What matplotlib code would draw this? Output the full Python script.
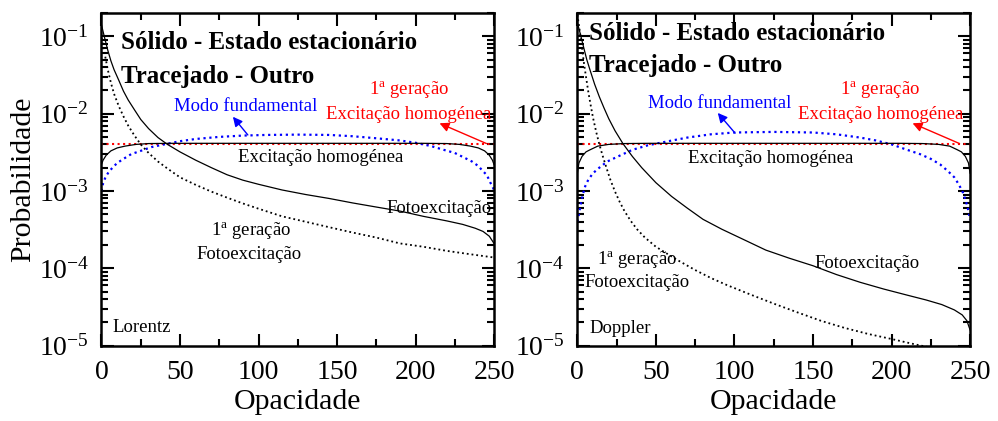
import matplotlib
matplotlib.use('Agg')
import matplotlib.pyplot as plt
from matplotlib.ticker import FixedLocator, LogLocator, NullFormatter

plt.rcParams['font.family'] = ['Liberation Serif', 'DejaVu Serif']
plt.rcParams['mathtext.fontset'] = 'custom'
plt.rcParams['mathtext.rm'] = 'Liberation Serif'
plt.rcParams['mathtext.it'] = 'Liberation Serif:italic'
plt.rcParams['mathtext.bf'] = 'Liberation Serif:bold'
plt.rcParams['axes.unicode_minus'] = False

# uniform level (first generation, homogeneous excitation)
red_x = [0, 250]
red_y = [0.004, 0.004]

# ---- Lorentz ----
lor_foto_x = [0, 2, 4, 6, 8, 11, 14, 17, 21, 25, 30, 36, 42, 50, 60, 70, 80, 90,
              100, 115, 130, 145, 160, 175, 190, 205, 220, 230, 238, 243, 247, 250]
lor_foto_y = [0.14, 0.095, 0.066, 0.048, 0.037, 0.027, 0.0195, 0.0150, 0.0112,
              0.0084, 0.0064, 0.0049, 0.0040, 0.0032, 0.0025, 0.0020, 0.00162,
              0.00138, 0.00122, 0.00103, 0.00090, 0.00080, 0.00070, 0.00062,
              0.00055, 0.00047, 0.00041, 0.00037, 0.00033, 0.00030, 0.00026, 0.00021]

lor_foto1_x = [0, 2, 4, 6, 8, 11, 14, 17, 21, 25, 30, 36, 42, 50, 60, 70, 80, 90,
               100, 115, 130, 145, 160, 175, 190, 205, 220, 235, 250]
lor_foto1_y = [0.095, 0.06, 0.037, 0.025, 0.018, 0.0125, 0.0092, 0.0070, 0.0052,
               0.0040, 0.0031, 0.0024, 0.00195, 0.00150, 0.00120, 0.00098, 0.00082,
               0.00069, 0.00059, 0.00047, 0.00040, 0.00034, 0.00029, 0.00025,
               0.00021, 0.00019, 0.000168, 0.000152, 0.000138]

lor_homog_x = [0, 1, 3, 6, 10, 15, 22, 30, 45, 125, 205, 220, 228, 235, 240, 244,
               247, 249, 250]
lor_homog_y = [0.0022, 0.0025, 0.0029, 0.0033, 0.0036, 0.0038, 0.0040, 0.0041,
               0.00413, 0.00413, 0.00413, 0.0041, 0.0040, 0.0038, 0.0036, 0.0033,
               0.0029, 0.0025, 0.0022]

lor_modo_x = [0, 1, 2.5, 4.5, 7, 10, 14, 19, 25, 32, 40, 50, 60, 75, 90, 105, 125,
              145, 160, 175, 190, 200, 210, 218, 225, 231, 236, 240, 243, 245.5,
              247.5, 249, 250]
lor_modo_y = [0.00100, 0.00125, 0.0015, 0.00175, 0.0020, 0.0023, 0.0026, 0.0030,
              0.0033, 0.0037, 0.0040, 0.0044, 0.0047, 0.0050, 0.0052, 0.0053,
              0.00535, 0.0053, 0.0051, 0.0048, 0.0045, 0.0042, 0.0038, 0.0034,
              0.0031, 0.0027, 0.0024, 0.0021, 0.0018, 0.0016, 0.0013, 0.00115, 0.00102]

# ---- Doppler ----
dop_foto_x = [0, 2, 4, 6, 8, 11, 14, 17, 20, 24, 29, 35, 41, 50, 60, 70, 80, 92,
              105, 120, 135, 150, 165, 180, 195, 210, 222, 232, 240, 245, 248, 250]
dop_foto_y = [0.15, 0.105, 0.072, 0.050, 0.037, 0.024, 0.0165, 0.0118, 0.0086,
              0.0060, 0.0041, 0.0028, 0.0020, 0.00128, 0.00085, 0.00060, 0.00043,
              0.00032, 0.00024, 0.000172, 0.000135, 0.000108, 0.000083, 0.000066,
              0.000054, 0.000045, 0.000039, 0.000034, 0.000029, 0.000025,
              0.000021, 0.000016]

dop_foto1_x = [0, 1, 2, 3, 4, 5.5, 7, 8.5, 10, 12, 14, 16, 18.5, 21, 24, 27, 30,
               34, 38, 43, 50, 57, 64, 75, 85, 95, 110, 125, 140, 155, 170, 185,
               200, 215, 230]
dop_foto1_y = [0.19, 0.14, 0.10, 0.07, 0.048, 0.030, 0.019, 0.0128, 0.0088,
               0.0058, 0.0040, 0.0029, 0.0020, 0.00140, 0.00098, 0.00072, 0.00055,
               0.00041, 0.00032, 0.00025, 0.00019, 0.000155, 0.000127, 0.000095,
               0.000075, 0.000061, 0.000046, 0.000035, 0.000027, 0.000021,
               0.000017, 0.0000142, 0.0000122, 0.0000104, 0.0000090]

dop_homog_x = [0, 1, 3, 5.5, 8, 13, 20, 30, 45, 125, 205, 220, 230, 237, 242,
               244.5, 247, 249, 250]
dop_homog_y = [0.0017, 0.0023, 0.0028, 0.0032, 0.0034, 0.0038, 0.0040, 0.0041,
               0.00413, 0.00413, 0.00413, 0.0041, 0.0040, 0.0038, 0.0034, 0.0032,
               0.0028, 0.0023, 0.0017]

dop_modo_x = [0, 1, 2, 3.5, 5, 7, 10, 14, 19, 26, 35, 45, 58, 70, 85, 100, 125,
              150, 165, 180, 190, 200, 210, 218, 225, 231, 236, 240, 243, 245.5,
              247.5, 249, 250]
dop_modo_y = [0.0004, 0.0005, 0.00065, 0.0009, 0.00115, 0.0014, 0.0017, 0.0020,
              0.0024, 0.0028, 0.0034, 0.0039, 0.0044, 0.0049, 0.0054, 0.0057,
              0.0058, 0.0057, 0.0054, 0.0049, 0.0045, 0.0040, 0.0034, 0.0030,
              0.0026, 0.0022, 0.0018, 0.0015, 0.0012, 0.00095, 0.00072, 0.00055,
              0.00042]

x_ticks = [0, 50, 100, 150, 200, 250]
x_minor = [25, 75, 125, 175, 225]

FS_TICK = 20
FS_LABEL = 21.5
FS_NOTE = 13.5
FS_TITLE = 18


def setup_axes(ax):
    ax.set_yscale('log')
    ax.set_xlim(0, 250)
    ax.set_ylim(1e-5, 0.2)
    ax.xaxis.set_major_locator(FixedLocator(x_ticks))
    ax.xaxis.set_minor_locator(FixedLocator(x_minor))
    ax.yaxis.set_major_locator(LogLocator(base=10, numticks=10))
    ax.yaxis.set_minor_locator(LogLocator(base=10, subs=range(2, 10), numticks=10))
    ax.yaxis.set_minor_formatter(NullFormatter())
    ax.tick_params(which='both', direction='in', top=True, right=True,
                   width=1.5, labelsize=FS_TICK)
    ax.tick_params(which='major', length=9)
    ax.tick_params(which='minor', length=5)
    ax.tick_params(axis='x', pad=10)
    ax.tick_params(axis='y', pad=9)
    for s in ax.spines.values():
        s.set_linewidth(1.8)
    ax.set_xlabel('Opacidade', fontsize=FS_LABEL, labelpad=3)


def draw_curves(ax, foto_x, foto_y, foto1_x, foto1_y, homog_x, homog_y, modo_x, modo_y):
    ax.plot(red_x, red_y, color='red', ls=':', lw=1.5)
    ax.plot(modo_x, modo_y, color='blue', ls=':', lw=1.6)
    ax.plot(homog_x, homog_y, color='black', lw=0.9)
    ax.plot(foto1_x, foto1_y, color='black', ls=':', lw=1.3)
    ax.plot(foto_x, foto_y, color='black', lw=0.9)


def arrow(ax, text_xy, tip_xy, color):
    ax.annotate('', xy=text_xy, xytext=tip_xy,
                arrowprops=dict(arrowstyle='-|>', color=color, lw=1.0,
                                mutation_scale=14, shrinkA=0, shrinkB=0))


def main():
    fig = plt.figure(figsize=(9.98, 4.21), dpi=100)
    ax1 = fig.add_axes([0.1017, 0.1789, 0.3933, 0.7903])
    ax2 = fig.add_axes([0.5785, 0.1789, 0.3935, 0.7903])

    # left panel: Lorentz
    draw_curves(ax1, lor_foto_x, lor_foto_y, lor_foto1_x, lor_foto1_y,
                lor_homog_x, lor_homog_y, lor_modo_x, lor_modo_y)
    setup_axes(ax1)
    ax1.set_ylabel('Probabilidade', fontsize=FS_LABEL, labelpad=1.5)

    ax1.text(12.4, 0.084, 'Sólido - Estado estacionário', fontsize=FS_TITLE,
             fontweight='bold', va='center')
    ax1.text(12.4, 0.0305, 'Tracejado - Outro', fontsize=FS_TITLE,
             fontweight='bold', va='center')
    ax1.text(92.0, 0.01225, 'Modo fundamental', color='blue', fontsize=FS_NOTE,
             ha='center', va='center')
    arrow(ax1, (83.7, 0.0091), (93.2, 0.0053), 'blue')
    ax1.text(195.7, 0.0204, '1$^\\mathrm{a}$ geração', color='red', fontsize=FS_NOTE,
             ha='center', va='center')
    ax1.text(195.6, 0.0096, 'Excitação homogénea', color='red', fontsize=FS_NOTE,
             ha='center', va='center')
    arrow(ax1, (215.3, 0.0075), (245.2, 0.0041), 'red')
    ax1.text(139.3, 0.00267, 'Excitação homogénea', fontsize=FS_NOTE,
             ha='center', va='center')
    ax1.text(214.8, 0.00060, 'Fotoexcitação', fontsize=FS_NOTE,
             ha='center', va='center')
    ax1.text(95.0, 0.000311, '1$^\\mathrm{a}$ geração', fontsize=FS_NOTE,
             ha='center', va='center')
    ax1.text(94.1, 0.000152, 'Fotoexcitação', fontsize=FS_NOTE,
             ha='center', va='center')
    ax1.text(7.1, 1.72e-5, 'Lorentz', fontsize=FS_NOTE, va='center')

    # right panel: Doppler
    draw_curves(ax2, dop_foto_x, dop_foto_y, dop_foto1_x, dop_foto1_y,
                dop_homog_x, dop_homog_y, dop_modo_x, dop_modo_y)
    setup_axes(ax2)

    ax2.text(7.6, 0.108, 'Sólido - Estado estacionário', fontsize=FS_TITLE,
             fontweight='bold', va='center')
    ax2.text(7.6, 0.0417, 'Tracejado - Outro', fontsize=FS_TITLE,
             fontweight='bold', va='center')
    ax2.text(90.3, 0.0134, 'Modo fundamental', color='blue', fontsize=FS_NOTE,
             ha='center', va='center')
    arrow(ax2, (89.4, 0.0102), (100.4, 0.0056), 'blue')
    ax2.text(193.0, 0.0204, '1$^\\mathrm{a}$ geração', color='red', fontsize=FS_NOTE,
             ha='center', va='center')
    ax2.text(193.3, 0.0096, 'Excitação homogénea', color='red', fontsize=FS_NOTE,
             ha='center', va='center')
    arrow(ax2, (213.4, 0.0075), (243.3, 0.0041), 'red')
    ax2.text(122.8, 0.0026, 'Excitação homogénea', fontsize=FS_NOTE,
             ha='center', va='center')
    ax2.text(184.7, 0.000116, 'Fotoexcitação', fontsize=FS_NOTE,
             ha='center', va='center')
    ax2.text(38.3, 0.000131, '1$^\\mathrm{a}$ geração', fontsize=FS_NOTE,
             ha='center', va='center')
    ax2.text(38.3, 0.000066, 'Fotoexcitação', fontsize=FS_NOTE,
             ha='center', va='center')
    ax2.text(7.6, 1.67e-5, 'Doppler', fontsize=FS_NOTE, va='center')

    fig.savefig('out.png', dpi=100)


if __name__ == "__main__":
    main()
